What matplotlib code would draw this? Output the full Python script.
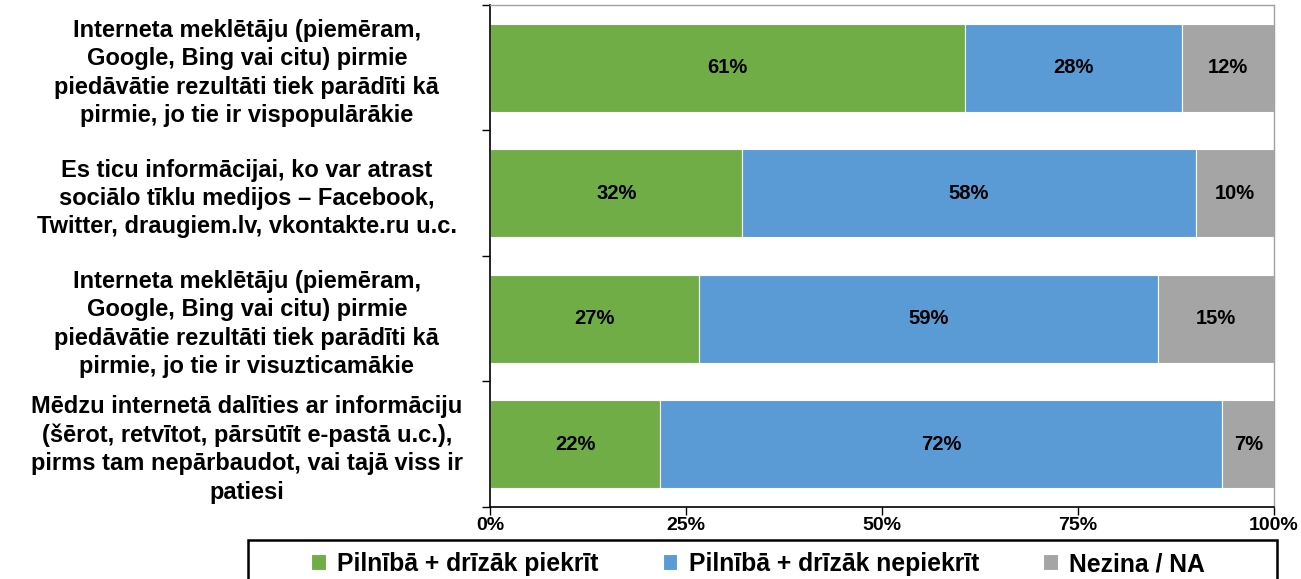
import numpy as np
import matplotlib.pyplot as plt
from matplotlib.patches import Rectangle

plt.rcParams['font.family'] = ['Liberation Sans', 'DejaVu Sans']
plt.rcParams['font.weight'] = 'bold'

categories = [
    'Interneta meklētāju (piemēram,\nGoogle, Bing vai citu) pirmie\npiedāvātie rezultāti tiek parādīti kā\npirmie, jo tie ir vispopulārākie',
    'Es ticu informācijai, ko var atrast\nsociālo tīklu medijos – Facebook,\nTwitter, draugiem.lv, vkontakte.ru u.c.',
    'Interneta meklētāju (piemēram,\nGoogle, Bing vai citu) pirmie\npiedāvātie rezultāti tiek parādīti kā\npirmie, jo tie ir visuzticamākie',
    'Mēdzu internetā dalīties ar informāciju\n(šērot, retvītot, pārsūtīt e-pastā u.c.),\npirms tam nepārbaudot, vai tajā viss ir\npatiesi',
]
agree = [60.6, 32.2, 26.6, 21.7]
disagree = [27.7, 57.8, 58.6, 71.7]
dont_know = [11.7, 10.0, 14.8, 6.6]
series_names = ['Pilnībā + drīzāk piekrīt', 'Pilnībā + drīzāk nepiekrīt', 'Nezina / NA']
colors = ['#70AD47', '#5B9BD5', '#A5A5A5']
xticks = [0, 25, 50, 75, 100]

fig = plt.figure(figsize=(13.01, 5.79), dpi=100)
ax = fig.add_axes([0.3766, 0.1244, 0.6027, 0.867])

y = np.arange(len(categories))
left = np.zeros(len(categories))
for vals, name, c in zip([agree, disagree, dont_know], series_names, colors):
    vals = np.array(vals)
    ax.barh(y, vals, left=left, height=0.7, color=c, edgecolor='white',
            linewidth=0.8, label=name)
    for yi, l, v in zip(y, left, vals):
        ax.text(l + v / 2, yi, f'{v:.0f}%', ha='center', va='center',
                fontsize=14.5, fontweight='bold', color='black')
    left += vals

ax.set_xlim(0, 100)
ax.set_ylim(len(categories) - 0.5, -0.5)
ax.set_xticks(xticks)
ax.set_xticklabels([f'{t}%' for t in xticks], fontsize=14, fontweight='bold')
ax.set_yticks(y)
ax.set_yticklabels(categories, fontsize=17, fontweight='bold', ha='center',
                   linespacing=1.3)
ax.tick_params(axis='y', length=0, pad=175)
ax.set_yticks(np.arange(len(categories) + 1) - 0.5, minor=True)
ax.tick_params(axis='y', which='minor', length=6, width=1, color='black')
ax.tick_params(axis='x', length=6, width=1, pad=1)

for s in ['left', 'bottom']:
    ax.spines[s].set_color('black')
    ax.spines[s].set_linewidth(1.2)
for s in ['top', 'right']:
    ax.spines[s].set_color('#A0A0A0')
    ax.spines[s].set_linewidth(1.0)

# legend box
fig.patches.append(Rectangle((248 / 1301, -0.05), 1029 / 1301, 0.05 + 1 - 540 / 579,
                             transform=fig.transFigure, fill=False,
                             edgecolor='black', linewidth=1.8))
fig.legend(loc='center', bbox_to_anchor=(758 / 1301, 1 - 564 / 579),
           ncol=3, frameon=False, prop={'size': 17.8, 'weight': 'bold'},
           handlelength=0.6, handleheight=0.6, handletextpad=0.45,
           columnspacing=2.6)

fig.savefig('out.png', dpi=100)
